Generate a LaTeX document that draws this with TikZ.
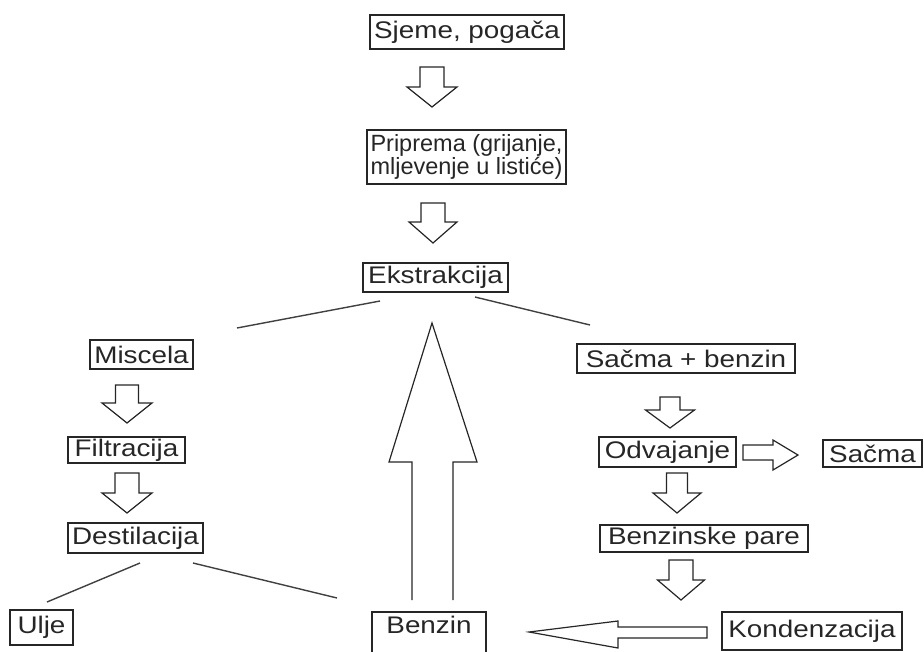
\documentclass[tikz,border=0pt]{standalone}
\usepackage{fontspec}
\setmainfont{Liberation Sans}
\newfontfamily\widefont{Liberation Sans}[FakeStretch=1.16]
\newfontfamily\narrowfont{Liberation Sans}
\newcommand\dnarrow[6]{\draw[barrow] (#1-#3,#2) -- (#1+#3,#2) -- (#1+#3,#4) -- (#1+#5,#4) -- (#1,#6) -- (#1-#5,#4) -- (#1-#3,#4) -- cycle;}
\begin{document}
\begin{tikzpicture}[x=1pt,y=-1pt,
  box/.style={draw=black!85, line width=1.7pt, inner sep=0pt, text=black!85,
    font=\widefont\fontsize{24}{26}\selectfont},
  barrow/.style={draw=black!85, line width=1.2pt, fill=white, line join=miter},
  link/.style={draw=black!75, line width=1.4pt}]
\useasboundingbox (0,0) rectangle (924,651);
\clip (0,0) rectangle (924,651);
% boxes
\node[box, minimum width=194pt, minimum height=34pt] (sjeme) at (467,32) {Sjeme, pogača};
\node[box, minimum width=199pt, minimum height=54pt, align=left,
  font=\narrowfont\fontsize{23.5}{19.5}\selectfont] (priprema) at (466.5,157) {Priprema (grijanje,\\mljevenje u listiće)};
\node[box, minimum width=145pt, minimum height=29pt] (ekstr) at (435.5,277.5) {Ekstrakcija};
\node[box, minimum width=103pt, minimum height=29pt] (miscela) at (141.5,354.5) {Miscela};
\node[box, minimum width=117pt, minimum height=26pt] (filtr) at (126.5,450) {Filtracija};
\node[box, minimum width=135pt, minimum height=30pt] (destil) at (135.5,538) {Destilacija};
\node[box, minimum width=63pt, minimum height=35pt] (ulje) at (41.5,627.5) {Ulje};
\node[box, anchor=base, text height=21pt, text depth=32pt, minimum width=114pt] (benzin) at (429,633) {Benzin};
\node[box, minimum width=218pt, minimum height=29pt] (sacmab) at (686,358.5) {Sačma + benzin};
\node[box, minimum width=137pt, minimum height=30pt] (odv) at (667.5,452) {Odvajanje};
\node[box, minimum width=99pt, minimum height=27pt] (sacma) at (872.5,453.5) {Sačma};
\node[box, minimum width=208pt, minimum height=27pt] (bpare) at (704,538.5) {Benzinske pare};
\node[box, minimum width=180pt, minimum height=38pt] (konden) at (812,631) {Kondenzacija};
% block arrows
\dnarrow{432}{67}{12}{87}{25}{107}
\dnarrow{433}{203}{12}{222}{24}{243}
\dnarrow{127}{385}{11.5}{403}{25}{423}
\dnarrow{127}{473}{12}{493}{25}{513}
\dnarrow{670}{397}{10}{410}{24.5}{428}
\dnarrow{677}{473}{10.5}{493}{24}{513}
\dnarrow{681}{560}{12}{580}{23.5}{600}
% right arrow Odvajanje -> Sacma
\draw[barrow] (743,445) -- (773,445) -- (773,440) -- (798,455) -- (773,470) -- (773,460) -- (743,460) -- cycle;
% left arrow Kondenzacija -> Benzin
\draw[barrow] (707,627) -- (618,627) -- (618,621) -- (529,632) -- (618,648) -- (618,638) -- (707,638) -- cycle;
% big up arrow Benzin -> Ekstrakcija
\draw[barrow] (412,600) -- (412,462) -- (389,462) -- (432,323) -- (477,462) -- (453,462) -- (453,600);
% branch lines
\coordinate (e1) at (380,301); \coordinate (e2) at (237,328);
\coordinate (e3) at (475,297); \coordinate (e4) at (590,325);
\coordinate (d1) at (140,563); \coordinate (d2) at (47,602);
\coordinate (d3) at (193,563); \coordinate (d4) at (337,598);
\draw[link] (e1) -- (e2);
\draw[link] (e3) -- (e4);
\draw[link] (d1) -- (d2);
\draw[link] (d3) -- (d4);
\end{tikzpicture}
\end{document}
